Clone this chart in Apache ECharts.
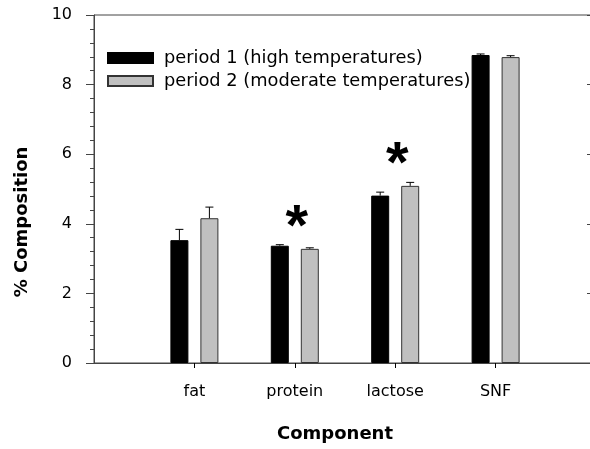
<!DOCTYPE html>
<html>
<head>
<meta charset="utf-8">
<script src="https://cdn.jsdelivr.net/npm/echarts@6/dist/echarts.min.js"></script>
<style>
html, body { margin: 0; padding: 0; background: #fff; }
#chart { width: 590px; height: 449px; }
</style>
</head>
<body>
<div id="chart"></div>
<script>
// empty slots at both ends keep the frame wider than the 4 groups
const categories = ['', 'fat', 'protein', 'lactose', 'SNF', '']
const period1 = [null, 3.53, 3.37, 4.81, 8.85, null]
const period1Err = [null, 0.31, 0.03, 0.10, 0.03, null]
const period2 = [null, 4.16, 3.28, 5.09, 8.79, null]
const period2Err = [null, 0.32, 0.03, 0.10, 0.04, null]
// significance marks: [category index, height]
const stars = [[2, 4.17], [3, 5.98]]

const font = 'DejaVu Sans'
const barWidth = 18
const barSpace = 12
const shift = (barWidth + barSpace) / 2

function errorBars(name, values, errs, dx) {
    return {
        name: name,
        type: 'custom',
        silent: true,
        z: 5,
        data: values.map((v, i) => v == null ? null : [i, v, errs[i]]).filter(d => d),
        renderItem: (params, api) => {
            let base = api.coord([api.value(0), api.value(1)])
            let top = api.coord([api.value(0), api.value(1) + api.value(2)])
            let x = base[0] + dx
            return {
                type: 'group',
                children: [
                    {type: 'line', shape: {x1: x, y1: base[1], x2: x, y2: top[1]}, style: {stroke: '#000', lineWidth: 1}},
                    {type: 'line', shape: {x1: x - 4, y1: top[1], x2: x + 4, y2: top[1]}, style: {stroke: '#000', lineWidth: 1}}
                ]
            }
        }
    }
}

let chartDom = document.getElementById('chart')
let myChart = echarts.init(chartDom)

myChart.setOption({
    animation: false,
    grid: {
        left: 94, top: 15, width: 502, height: 348,
        outerBoundsMode: 'none',
        show: true, borderColor: '#444', borderWidth: 1
    },
    legend: {
        data: ['period 1 (high temperatures)', 'period 2 (moderate temperatures)'],
        orient: 'vertical',
        left: 107,
        top: 49,
        padding: 0,
        itemWidth: 45,
        itemHeight: 10,
        itemGap: 5,
        icon: 'rect',
        textStyle: {fontFamily: font, fontSize: 17.8, color: '#000', padding: [0, 0, 0, 6]}
    },
    xAxis: {
        type: 'category',
        data: categories,
        boundaryGap: false,
        name: 'Component',
        nameLocation: 'middle',
        nameGap: 62,
        nameTextStyle: {fontFamily: font, fontSize: 18, fontWeight: 'bold', color: '#000', padding: [0, 20, 0, 0]},
        axisLine: {lineStyle: {color: '#444'}},
        axisTick: {length: 5, interval: (i) => i > 0 && i < categories.length - 1, lineStyle: {color: '#000'}},
        axisLabel: {margin: 21, fontFamily: font, fontSize: 16, color: '#000'},
        splitLine: {show: false}
    },
    yAxis: [{
        type: 'value',
        min: 0,
        max: 10,
        interval: 2,
        name: '% Composition',
        nameLocation: 'middle',
        nameRotate: 90,
        nameGap: 63,
        // title sits below the middle of the axis in the original
        nameTextStyle: {fontFamily: font, fontSize: 18, fontWeight: 'bold', color: '#000', padding: [0, 66, 0, 0]},
        axisLine: {show: true, lineStyle: {color: '#444'}},
        axisTick: {show: true, length: 8, lineStyle: {color: '#444'}},
        minorTick: {show: true, splitNumber: 5, length: 4, lineStyle: {color: '#444'}},
        axisLabel: {margin: 22, fontFamily: font, fontSize: 16, color: '#000'},
        splitLine: {show: false}
    }, {
        type: 'value',
        position: 'right',
        min: 0,
        max: 10,
        interval: 2,
        axisLine: {show: false},
        axisTick: {show: true, inside: true, length: 9, lineStyle: {color: '#444'}},
        axisLabel: {show: false},
        splitLine: {show: false}
    }],
    series: [
        {
            name: 'period 1 (high temperatures)',
            type: 'bar',
            data: period1,
            barWidth: barWidth,
            barGap: (barSpace / barWidth * 100) + '%',
            itemStyle: {color: '#000', borderColor: '#000', borderWidth: 1}
        },
        {
            name: 'period 2 (moderate temperatures)',
            type: 'bar',
            data: period2,
            barWidth: barWidth,
            itemStyle: {color: '#c0c0c0', borderColor: '#333', borderWidth: 1}
        },
        errorBars('err1', period1, period1Err, -shift),
        errorBars('err2', period2, period2Err, shift),
        {
            name: 'stars',
            type: 'scatter',
            data: stars,
            symbolSize: 2,
            z: 10,
            itemStyle: {color: 'rgba(0,0,0,0)', opacity: 1},
            // the glyph sits high in its text box, so push it down
            labelLayout: {hideOverlap: false, dx: 2, dy: 11},
            label: {
                show: true,
                formatter: '*',
                position: 'inside',
                fontFamily: 'Liberation Sans',
                fontSize: 58,
                fontWeight: 'bold',
                color: '#000'
            }
        }
    ]
})

window.addEventListener('resize', () => {
    myChart.resize()
})
</script>
</body>
</html>
